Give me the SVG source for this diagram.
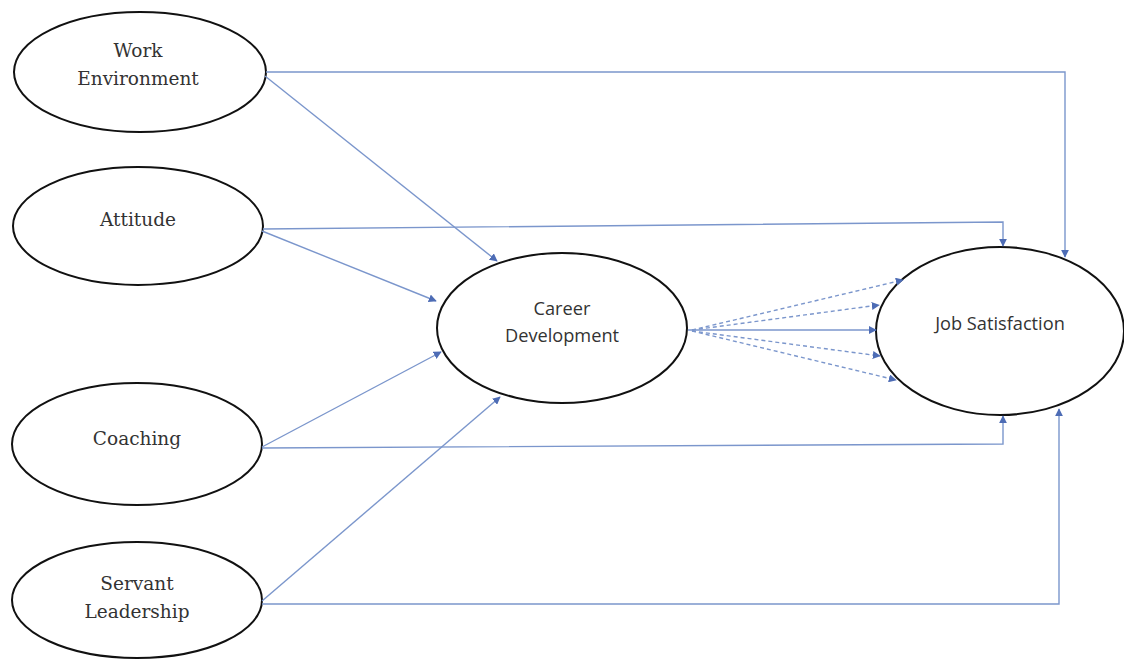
<svg xmlns="http://www.w3.org/2000/svg" width="1124" height="661" viewBox="0 0 1124 661">
<style>
.n{fill:#fff;stroke:#111;stroke-width:2}
.s{font-family:"DejaVu Serif",serif;font-size:18.5px;fill:#333;text-anchor:middle}
.c{font-family:"Open Sans","Liberation Sans",sans-serif;font-size:18.2px;fill:#333;text-anchor:middle}
.l{fill:none;stroke:#7b96cc;stroke-width:1.4}
.d{stroke-dasharray:4 3}
</style>
<defs>
<marker id="a" viewBox="0 0 10 10" refX="9" refY="5" markerWidth="8" markerHeight="8" orient="auto" markerUnits="userSpaceOnUse">
<path d="M0,0L10,5L0,10z" fill="#4d6cb5"/>
</marker>
</defs>
<g id="work-environment">
<ellipse class="n" cx="140" cy="72" rx="126" ry="60"/>
<text class="s" x="138" y="57">Work</text>
<text class="s" x="138" y="85">Environment</text>
</g>
<g id="attitude">
<ellipse class="n" cx="138" cy="226" rx="125" ry="59"/>
<text class="s" x="138" y="226">Attitude</text>
</g>
<g id="coaching">
<ellipse class="n" cx="137" cy="444" rx="125" ry="61"/>
<text class="s" x="137" y="445">Coaching</text>
</g>
<g id="servant-leadership">
<ellipse class="n" cx="137" cy="600" rx="125" ry="58"/>
<text class="s" x="137" y="590">Servant</text>
<text class="s" x="137" y="618">Leadership</text>
</g>
<g id="career-development">
<ellipse class="n" cx="562" cy="328" rx="125" ry="75"/>
<text class="c" x="562" y="315">Career</text>
<text class="c" x="562" y="342">Development</text>
</g>
<g id="job-satisfaction">
<ellipse class="n" cx="1000" cy="331" rx="124" ry="84"/>
<text class="c" x="1000" y="330">Job Satisfaction</text>
</g>
<g id="connectors">
<polyline class="l" points="266,72 1065,72 1065,257" marker-end="url(#a)"/>
<line class="l" x1="265" y1="76" x2="497" y2="261" marker-end="url(#a)"/>
<polyline class="l" points="263,229 1003,222 1003,246" marker-end="url(#a)"/>
<line class="l" x1="262" y1="231" x2="436" y2="301" marker-end="url(#a)"/>
<line class="l" x1="262" y1="447" x2="441" y2="352" marker-end="url(#a)"/>
<polyline class="l" points="262,448 1003,444 1003,416" marker-end="url(#a)"/>
<line class="l" x1="262" y1="601" x2="500" y2="397" marker-end="url(#a)"/>
<polyline class="l" points="262,604 1059,604 1059,409" marker-end="url(#a)"/>
<line class="l" x1="688" y1="330" x2="876" y2="330" marker-end="url(#a)"/>
<line class="l d" x1="692" y1="330" x2="903" y2="280" marker-end="url(#a)"/>
<line class="l d" x1="692" y1="330" x2="879" y2="305" marker-end="url(#a)"/>
<line class="l d" x1="692" y1="331" x2="880" y2="356" marker-end="url(#a)"/>
<line class="l d" x1="692" y1="331" x2="896" y2="380" marker-end="url(#a)"/>
</g>
</svg>
